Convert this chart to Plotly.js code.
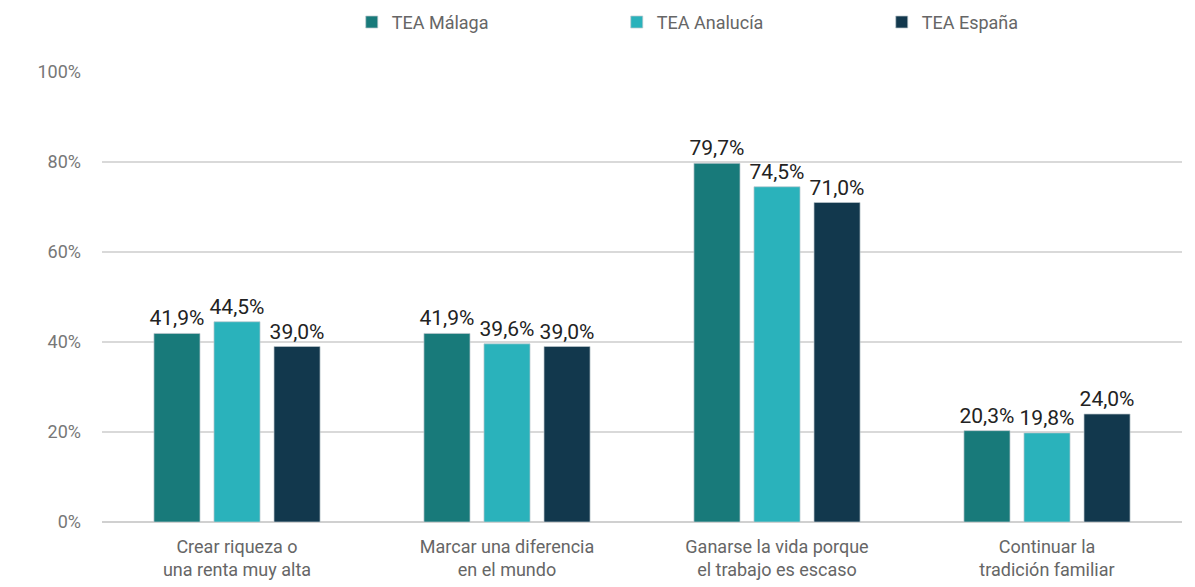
<!DOCTYPE html>
<html>
<head>
<meta charset="utf-8">
<script src="https://cdn.plot.ly/plotly-3.0.1.min.js"></script>
<style>html,body{margin:0;padding:0;background:#fff;}#chart{width:1195px;height:587px;}</style>
</head>
<body>
<div id="chart"></div>
<script>
const categories = [
  "Crear riqueza o<br>una renta muy alta",
  "Marcar una diferencia<br>en el mundo",
  "Ganarse la vida porque<br>el trabajo es escaso",
  "Continuar la<br>tradición familiar"
];
const seriesNames = ["TEA Málaga", "TEA Analucía", "TEA España"];
const malaga = [41.9, 41.9, 79.7, 20.3];
const andalucia = [44.5, 39.6, 74.5, 19.8];
const espana = [39.0, 39.0, 71.0, 24.0];
const colors = ["#187a7a", "#2ab2bb", "#12384d"];
const yTicks = [0, 20, 40, 60, 80, 100];

const fmt = v => v.toFixed(1).replace('.', ',') + '%';
const allSeries = [malaga, andalucia, espana];

const traces = allSeries.map((vals, i) => ({
  type: 'bar',
  name: seriesNames[i],
  x: categories,
  y: vals,
  text: vals.map(fmt),
  textposition: 'outside',
  textangle: 0,
  constraintext: 'none',
  cliponaxis: false,
  textfont: {family: 'Roboto, sans-serif', size: 21, color: '#222'},
  marker: {color: colors[i], line: {color: 'rgba(190,200,205,0.7)', width: 1}},
  hoverinfo: 'none'
}));

const layout = {
  width: 1195, height: 587,
  margin: {l: 102, r: 13, t: 72, b: 65, autoexpand: false},
  paper_bgcolor: '#fff', plot_bgcolor: '#fff',
  font: {family: 'Roboto, sans-serif', color: '#666'},
  barmode: 'group',
  bargap: 0.333,
  bargroupgap: 0.233,
  showlegend: true,
  legend: {
    orientation: 'h', x: 0.627, xanchor: 'center', xref: 'container',
    y: 0.962, yanchor: 'middle', yref: 'container',
    font: {size: 18, color: '#666'},
    entrywidth: 220, itemwidth: 18, traceorder: 'normal'
  },
  xaxis: {
    type: 'category',
    tickfont: {size: 18, color: '#666'},
    showgrid: false, showline: false, zeroline: false, ticks: '',
    ticklabelstandoff: 12, automargin: false
  },
  yaxis: {
    range: [0, 100],
    tickvals: yTicks,
    ticktext: yTicks.map(v => v + '%'),
    tickfont: {size: 18, color: '#777'},
    showgrid: true, gridcolor: '#d9d9d9', gridwidth: 2,
    zeroline: true, zerolinecolor: '#d0d0d0', zerolinewidth: 2,
    ticks: '', ticklabelstandoff: 20, showline: false, automargin: false
  }
};

Plotly.newPlot('chart', traces, layout, {displayModeBar: false, staticPlot: true});
</script>
</body>
</html>
